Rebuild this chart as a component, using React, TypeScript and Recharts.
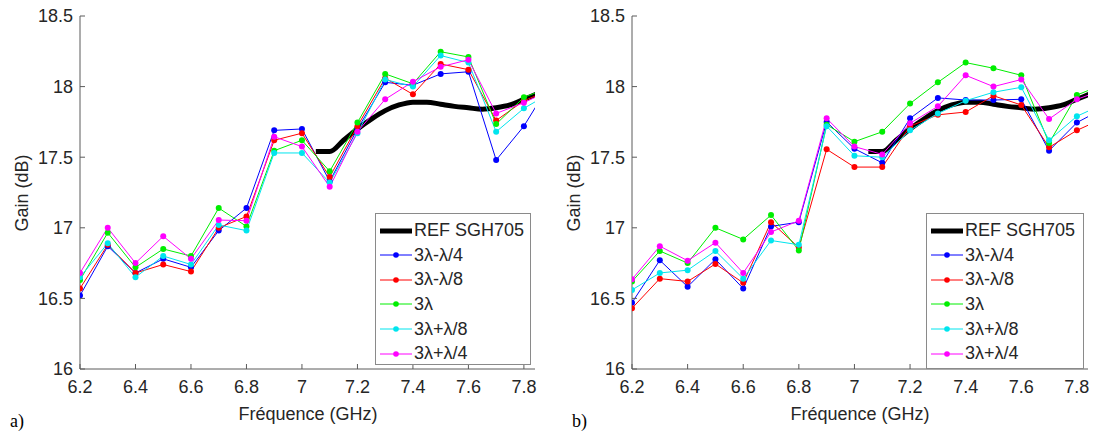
import React from 'react';
import { LineChart, Line, XAxis, YAxis } from 'recharts';

const FONT = '"Liberation Sans", Arial, Helvetica, sans-serif';

// Frequencies (GHz) of measured points
const FREQ = [6.2, 6.3, 6.4, 6.5, 6.6, 6.7, 6.8, 6.9, 7.0, 7.1, 7.2, 7.3, 7.4, 7.5, 7.6, 7.7, 7.8, 7.9];
// Reference horn SGH705
const REF_FREQ = [7.05, 7.1, 7.15, 7.2, 7.25, 7.3, 7.35, 7.4, 7.45, 7.5, 7.55, 7.6, 7.65, 7.7, 7.75, 7.8, 7.85, 7.9];
const REF_GAIN = [17.54, 17.54, 17.62, 17.7, 17.77, 17.83, 17.87, 17.89, 17.89, 17.875, 17.86, 17.85, 17.84, 17.85, 17.87, 17.91, 17.95, 17.99];

// Plot a)
const A_M4 = [16.52, 16.87, 16.68, 16.78, 16.72, 16.98, 17.14, 17.69, 17.7, 17.33, 17.7, 18.03, 18.01, 18.09, 18.105, 17.48, 17.72, 18.04];
const A_M8 = [16.57, 16.88, 16.68, 16.74, 16.69, 17.0, 17.08, 17.62, 17.67, 17.36, 17.72, 18.06, 17.945, 18.16, 18.12, 17.76, 17.9, 17.98];
const A_0 = [16.63, 16.965, 16.72, 16.85, 16.8, 17.14, 17.01, 17.546, 17.62, 17.4, 17.745, 18.09, 18.02, 18.247, 18.21, 17.735, 17.924, 18.0];
const A_P8 = [16.65, 16.89, 16.65, 16.8, 16.74, 17.02, 16.98, 17.53, 17.53, 17.32, 17.67, 18.05, 18.0, 18.22, 18.17, 17.68, 17.846, 17.96];
const A_P4 = [16.68, 17.0, 16.75, 16.94, 16.78, 17.055, 17.05, 17.645, 17.575, 17.29, 17.68, 17.91, 18.035, 18.14, 18.19, 17.81, 17.886, 17.98];

// Plot b)
const B_M4 = [16.47, 16.77, 16.583, 16.777, 16.57, 17.01, 17.04, 17.75, 17.56, 17.46, 17.775, 17.92, 17.905, 17.905, 17.91, 17.546, 17.745, 17.85];
const B_M8 = [16.43, 16.64, 16.62, 16.744, 16.61, 17.04, 16.86, 17.556, 17.43, 17.43, 17.72, 17.8, 17.82, 17.935, 17.87, 17.57, 17.69, 17.78];
const B_0 = [16.62, 16.836, 16.75, 17.0, 16.918, 17.09, 16.84, 17.73, 17.61, 17.68, 17.88, 18.03, 18.17, 18.13, 18.08, 17.6, 17.94, 18.02];
const B_P8 = [16.56, 16.68, 16.7, 16.836, 16.64, 16.91, 16.88, 17.72, 17.51, 17.5, 17.69, 17.81, 17.9, 17.96, 17.995, 17.62, 17.79, 17.88];
const B_P4 = [16.635, 16.87, 16.767, 16.895, 16.68, 16.97, 17.05, 17.775, 17.575, 17.52, 17.74, 17.86, 18.08, 18.0, 18.05, 17.77, 17.91, 17.98];

const X_TICKS = [6.2, 6.4, 6.6, 6.8, 7, 7.2, 7.4, 7.6, 7.8];
const Y_TICKS = [16, 16.5, 17, 17.5, 18, 18.5];
const X_DOMAIN: [number, number] = [6.2, 7.84];
const Y_DOMAIN: [number, number] = [16, 18.5];

const SERIES_NAMES = ['3λ-λ/4', '3λ-λ/8', '3λ', '3λ+λ/8', '3λ+λ/4'];
const SERIES_COLORS = ['#0000ff', '#ff0000', '#00ee00', '#00e5ee', '#ff00ff'];
const REF_NAME = 'REF SGH705';

const AXIS_COLOR = '#5a5a5a';
const TEXT_COLOR = '#262626';
const FS = 18;
const TICK_LEN = 5;
const Y_MARGIN = 7;
const X_MARGIN = 11;

const rows = (xs: number[], ys: number[]) => xs.map((f, i) => ({ f, g: ys[i] }));

const YTickLeft = (props: any) => {
  const { x, y, payload } = props;
  return (
    <g>
      <text x={x} y={y} dy="0.36em" textAnchor="end" fontSize={FS} fill={TEXT_COLOR} fontFamily={FONT}>
        {String(payload.value)}
      </text>
      <line x1={x + Y_MARGIN} x2={x + Y_MARGIN + TICK_LEN} y1={y} y2={y} stroke={AXIS_COLOR} />
    </g>
  );
};
const YTickRight = (props: any) => {
  const { x, y } = props;
  return <line x1={x} x2={x - TICK_LEN} y1={y} y2={y} stroke={AXIS_COLOR} />;
};
const XTickBottom = (props: any) => {
  const { x, y, payload } = props;
  return (
    <g>
      <text x={x} y={y} dy="0.72em" textAnchor="middle" fontSize={FS} fill={TEXT_COLOR} fontFamily={FONT}>
        {String(payload.value)}
      </text>
      <line x1={x} x2={x} y1={y - X_MARGIN} y2={y - X_MARGIN - TICK_LEN} stroke={AXIS_COLOR} />
    </g>
  );
};
const XTickTop = (props: any) => {
  const { x, y } = props;
  return <line x1={x} x2={x} y1={y} y2={y + TICK_LEN} stroke={AXIS_COLOR} />;
};

const LegendBox = ({ left, top, width, height }: { left: number; top: number; width: number; height: number }) => (
  <div
    style={{
      position: 'absolute',
      left,
      top,
      width,
      height,
      boxSizing: 'border-box',
      border: '1px solid #8a8a8a',
      background: '#ffffff',
      paddingTop: 4,
      fontFamily: FONT,
      fontSize: FS,
      color: TEXT_COLOR,
    }}
  >
    <div style={{ display: 'flex', alignItems: 'center', height: 25 }}>
      <svg width={36} height={12} style={{ marginLeft: 2 }}>
        <line x1={2} x2={34} y1={6} y2={6} stroke="#000" strokeWidth={5} />
      </svg>
      <span style={{ whiteSpace: 'nowrap' }}>{REF_NAME}</span>
    </div>
    {SERIES_NAMES.map((n, i) => (
      <div key={n} style={{ display: 'flex', alignItems: 'center', height: 24.6 }}>
        <svg width={36} height={12} style={{ marginLeft: 2 }}>
          <line x1={2} x2={34} y1={6} y2={6} stroke={SERIES_COLORS[i]} strokeWidth={1} />
          <circle cx={18} cy={6} r={2.8} fill={SERIES_COLORS[i]} />
        </svg>
        <span style={{ whiteSpace: 'nowrap' }}>{n}</span>
      </div>
    ))}
  </div>
);

const Panel = ({ series, left, width, marginRight }: { series: number[][]; left: number; width: number; marginRight: number }) => (
  <div style={{ position: 'absolute', left, top: 0, width, height: 434 }}>
    <LineChart width={width} height={434} margin={{ top: 16, right: marginRight, bottom: 35, left: 20 }}>
      <XAxis
        dataKey="f"
        type="number"
        domain={X_DOMAIN}
        ticks={X_TICKS}
        allowDataOverflow
        height={30}
        tickSize={0}
        tickMargin={X_MARGIN}
        tick={<XTickBottom />}
        axisLine={{ stroke: AXIS_COLOR }}
        interval={0}
      />
      <XAxis
        xAxisId="t"
        orientation="top"
        dataKey="f"
        type="number"
        domain={X_DOMAIN}
        ticks={X_TICKS}
        allowDataOverflow
        height={0}
        tickSize={0}
        tickMargin={0}
        tick={<XTickTop />}
        axisLine={{ stroke: AXIS_COLOR }}
        interval={0}
      />
      <YAxis
        type="number"
        domain={Y_DOMAIN}
        ticks={Y_TICKS}
        allowDataOverflow
        width={60}
        tickSize={0}
        tickMargin={Y_MARGIN}
        tick={<YTickLeft />}
        axisLine={{ stroke: AXIS_COLOR }}
        interval={0}
      />
      <YAxis
        yAxisId="r"
        orientation="right"
        type="number"
        domain={Y_DOMAIN}
        ticks={Y_TICKS}
        allowDataOverflow
        width={0}
        tickSize={0}
        tickMargin={0}
        tick={<YTickRight />}
        axisLine={{ stroke: AXIS_COLOR }}
        interval={0}
      />
      <Line
        data={rows(REF_FREQ, REF_GAIN)}
        dataKey="g"
        type="monotone"
        stroke="#000000"
        strokeWidth={5}
        dot={false}
        activeDot={false}
        isAnimationActive={false}
      />
      {series.map((s, i) => (
        <Line
          key={SERIES_NAMES[i]}
          data={rows(FREQ, s)}
          dataKey="g"
          type="linear"
          stroke={SERIES_COLORS[i]}
          strokeWidth={1}
          dot={{ r: 3, fill: SERIES_COLORS[i], stroke: SERIES_COLORS[i], strokeWidth: 0 }}
          activeDot={false}
          isAnimationActive={false}
        />
      ))}
    </LineChart>
  </div>
);

export default function App() {
  return (
    <div style={{ position: 'absolute', left: 0, top: 0, width: 1095, height: 434, background: '#fff', overflow: 'hidden' }}>
      <Panel series={[A_M4, A_M8, A_0, A_P8, A_P4]} left={0} width={545} marginRight={10} />
      <Panel series={[B_M4, B_M8, B_0, B_P8, B_P4]} left={552} width={543} marginRight={7} />
      <LegendBox left={375} top={213} width={156} height={152} />
      <LegendBox left={926} top={213} width={158} height={156} />
      <svg width={1095} height={434} style={{ position: 'absolute', left: 0, top: 0, pointerEvents: 'none' }}>
        <text x={308} y={420} textAnchor="middle" fontSize={FS} fill={TEXT_COLOR} fontFamily={FONT}>Fréquence (GHz)</text>
        <text x={860} y={420} textAnchor="middle" fontSize={FS} fill={TEXT_COLOR} fontFamily={FONT}>Fréquence (GHz)</text>
        <text x={28} y={193} textAnchor="middle" fontSize={FS} fill={TEXT_COLOR} fontFamily={FONT} transform="rotate(-90 28 193)">Gain (dB)</text>
        <text x={580} y={193} textAnchor="middle" fontSize={FS} fill={TEXT_COLOR} fontFamily={FONT} transform="rotate(-90 580 193)">Gain (dB)</text>
        <text x={10} y={427} fontSize={18} fill="#000" fontFamily='"Liberation Serif", "Times New Roman", serif'>a)</text>
        <text x={572} y={427} fontSize={18} fill="#000" fontFamily='"Liberation Serif", "Times New Roman", serif'>b)</text>
      </svg>
    </div>
  );
}
